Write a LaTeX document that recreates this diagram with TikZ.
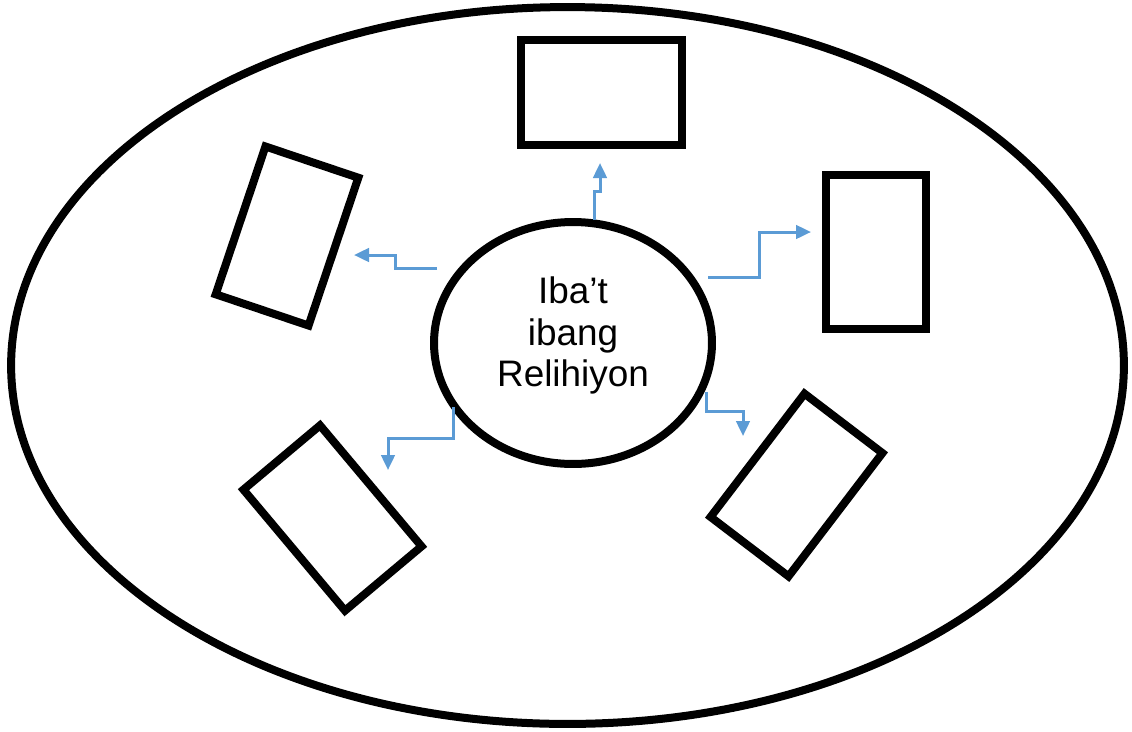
\documentclass[tikz,border=0pt]{standalone}
\usepackage{fontspec}
\setmainfont{Liberation Sans}
\usetikzlibrary{arrows.meta,calc,shapes.geometric,positioning}

\begin{document}
\begin{tikzpicture}[x=0.02cm,y=-0.02cm,line join=miter,
  frame/.style={draw,line width=0.16cm,inner sep=0pt,rectangle},
  flow/.style={draw={rgb,255:red,91;green,155;blue,213},line width=0.06cm,
    -{Triangle[length=0.3cm,width=0.27cm]}}]
\useasboundingbox (0,0) rectangle (1132,731);

\node [draw,ellipse,line width=0.16cm,minimum width=22.26cm,minimum height=14.34cm] at (567.5,365.5) (world) {};
\node [draw,ellipse,line width=0.16cm,minimum width=5.56cm,minimum height=4.84cm] at (573,343) (hub) {};
\node [align=center,font=\fontsize{21}{23.5}\selectfont,yshift=0.15cm] at (hub.center) (hubtext) {Iba’t\\ibang\\Relihiyon};

\node [frame,minimum width=3.22cm,minimum height=2.1cm] at (601.5,92.5) (b1) {};
\node [frame,minimum width=2.0cm,minimum height=3.1cm] at (876,252) (b2) {};
\node [frame,minimum width=1.96cm,minimum height=3.12cm,rotate=-18.6] at (287,236) (b3) {};
\node [frame,minimum width=2.0cm,minimum height=3.16cm,rotate=40] at (332.5,518) (b4) {};
\node [frame,minimum width=1.96cm,minimum height=3.1cm,rotate=-37.3] at (796.5,485) (b5) {};

\coordinate (s1) at (594,220);   \coordinate (t1) at (600,163);
\coordinate (s2) at (708,277);   \coordinate (t2) at (811,232);
\coordinate (s3) at (437,268);   \coordinate (t3) at (354,255);
\coordinate (s4) at (453,407);   \coordinate (t4) at (388,470);
\coordinate (s5) at (706,392);   \coordinate (t5) at (743,436);

\draw [flow] (s1) |- ($(s1)!.5!(t1)$) -| (t1);
\draw [flow] (s2) -| ($(s2)!.5!(t2)$) |- (t2);
\draw [flow] (s3) -| ($(s3)!.5!(t3)$) |- (t3);
\draw [flow] (s4) |- ($(s4)!.5!(t4)$) -| (t4);
\draw [flow] (s5) |- ($(s5)!.45!(t5)$) -| (t5);
\end{tikzpicture}
\end{document}
